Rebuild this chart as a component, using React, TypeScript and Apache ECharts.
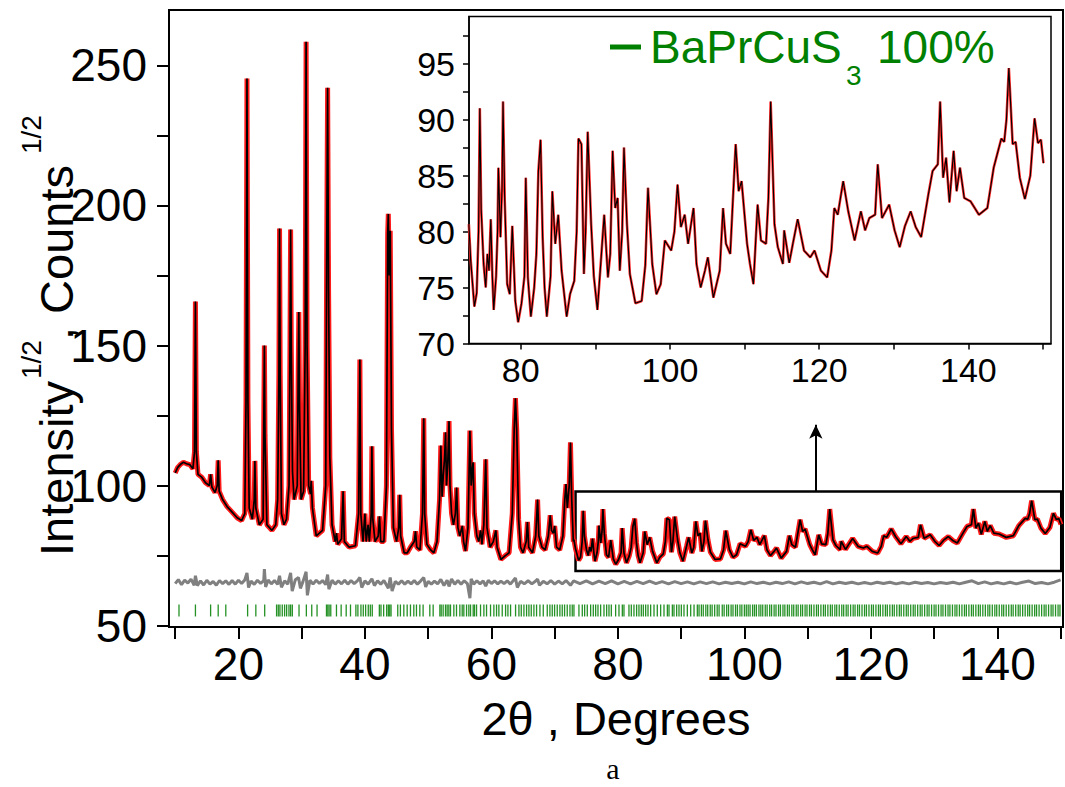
import React, { useEffect, useRef } from 'react';
import * as echarts from 'echarts';

// ---- data ----
// low-angle part of the profile (2theta, sqrt intensity)
const lowProfile: [number, number][] = [
  [10.0, 104.5], [10.4, 106.5], [10.8, 107.5], [11.3, 108.3], [11.8, 107.8], [12.3, 107.5], [12.8, 106],
  [13.05, 112], [13.2, 165.7], [13.35, 112], [13.6, 104], [14.2, 103], [14.8, 101], [15.4, 100], [15.6, 104],
  [15.8, 99.5], [16.3, 97.5], [16.65, 100], [16.8, 109], [16.95, 98], [17.5, 95], [18.2, 92.5], [19.0, 90.5],
  [19.8, 88.5], [20.5, 87.5], [21.0, 90], [21.2, 130], [21.35, 245.3], [21.5, 130], [21.7, 92], [22.2, 88],
  [22.5, 95], [22.6, 108.8], [22.75, 92], [23.3, 86], [23.9, 88], [24.0, 120], [24.1, 150], [24.2, 118],
  [24.5, 86], [25.3, 84], [25.9, 86], [26.2, 95], [26.4, 140], [26.5, 191.8], [26.6, 140], [26.8, 90],
  [27.2, 86], [27.6, 88], [28.0, 100], [28.15, 150], [28.25, 191.4], [28.35, 150], [28.55, 105], [28.8, 95],
  [29.3, 100], [29.45, 140], [29.55, 162], [29.65, 130], [29.9, 95], [30.3, 98], [30.55, 150], [30.7, 258.5],
  [30.85, 150], [31.1, 100], [31.4, 97], [31.5, 101.7], [31.7, 92], [32.3, 82], [32.8, 83], [33.3, 84],
  [33.8, 100], [33.95, 180], [34.1, 242], [34.25, 170], [34.45, 110], [34.8, 86], [35.3, 80], [35.5, 83],
  [35.7, 79], [36.3, 81], [36.55, 98], [36.75, 80], [37.5, 78], [38.5, 78.5], [39.0, 90], [39.2, 145],
  [39.35, 90], [39.7, 80], [40.0, 90], [40.2, 80], [40.5, 86], [40.7, 80], [41.0, 90], [41.1, 114],
  [41.25, 88], [41.6, 80], [42.1, 82], [42.3, 89], [42.5, 80], [43.0, 80], [43.4, 100], [43.6, 190],
  [43.7, 197], [43.85, 175], [44.0, 191], [44.2, 120], [44.5, 85], [45.0, 80], [45.35, 85], [45.5, 96.7],
  [45.65, 82], [46.2, 76], [46.7, 76], [47.2, 78], [47.8, 80], [48.0, 83.7], [48.2, 78], [48.7, 77],
  [49.1, 90], [49.3, 124], [49.45, 90], [49.8, 79], [50.4, 77], [50.9, 76], [51.4, 80], [51.8, 95],
  [52.0, 114.3], [52.2, 96], [52.4, 104], [52.6, 110], [52.75, 119], [52.9, 100], [53.1, 108], [53.3, 123],
  [53.45, 100], [53.7, 90], [54.0, 86], [54.3, 90], [54.5, 99.3], [54.7, 85], [55.0, 82], [55.4, 85.6],
  [55.6, 80], [55.9, 76.6], [56.3, 85], [56.6, 119.6], [56.8, 100], [57.0, 106], [57.1, 108.3], [57.3, 90],
  [57.7, 82], [58.0, 80], [58.3, 84], [58.5, 79], [58.8, 86], [59.1, 109.4], [59.3, 85], [59.8, 78],
  [60.3, 80], [60.7, 84], [60.9, 78], [61.5, 73.6], [62.2, 75], [62.8, 76], [63.3, 90], [63.6, 120],
  [63.8, 131.2], [64.0, 120], [64.3, 88], [64.6, 78], [65.0, 76], [65.5, 80], [65.7, 87], [65.9, 78],
  [66.5, 76], [67.0, 82], [67.3, 95], [67.5, 82], [68.0, 78], [68.5, 77], [69.0, 82], [69.3, 89.4],
  [69.5, 84], [69.8, 83], [70.0, 85.6], [70.3, 78], [70.8, 77], [71.3, 82], [71.6, 95], [71.8, 100.5],
  [72.0, 92], [72.3, 100], [72.5, 115.4], [72.7, 95], [72.95, 80],
];

// high-angle part (also shown in the inset)
const highProfile: [number, number][] = [
  [73.05, 80.65], [73.3, 77.4], [73.79, 73.3], [74.1, 74.5], [74.35, 80], [74.52, 91.0], [74.7, 82],
  [75.03, 77.1], [75.31, 75.0], [75.54, 78.0], [75.75, 76.5], [75.99, 81.1], [76.2, 76], [76.38, 73.0],
  [76.7, 76], [76.9, 80], [77.01, 85.7], [77.29, 79.5], [77.5, 84], [77.63, 91.6], [77.85, 83.0],
  [78.19, 75.3], [78.53, 74.4], [78.87, 80.5], [79.27, 73.8], [79.66, 71.9], [80.11, 73.6], [80.5, 76],
  [80.68, 84.8], [80.96, 75.9], [81.36, 72.4], [81.81, 75.0], [82.1, 78], [82.37, 85.4], [82.66, 88.2],
  [82.94, 79.5], [83.2, 75], [83.5, 72.4], [84.0, 76], [84.24, 83.6], [84.63, 78.9], [85.03, 81.5],
  [85.48, 76.5], [86.16, 72.4], [86.61, 74.4], [87.18, 75.6], [87.5, 80], [87.74, 88.3], [88.14, 87.8],
  [88.47, 76.2], [88.7, 80], [88.98, 88.9], [89.44, 80.65], [89.8, 76], [90.28, 73.0], [90.85, 78.3],
  [91.19, 81.5], [91.69, 75.9], [92.0, 78], [92.32, 87.2], [92.66, 82.1], [92.99, 83.0], [93.28, 76.5],
  [93.6, 80], [93.84, 87.5], [94.24, 80.65], [94.63, 76.2], [95.37, 73.6], [96.21, 73.8], [96.7, 77],
  [97.06, 83.9], [97.63, 77.1], [98.19, 74.4], [98.76, 75.3], [99.32, 79.2], [100.17, 78.3], [100.6, 80],
  [101.02, 84.2], [101.47, 80.4], [101.98, 81.5], [102.43, 78.9], [103.16, 82.1], [103.56, 77.1],
  [104.12, 75.0], [104.69, 76.5], [105.08, 77.7], [105.82, 74.1], [106.67, 76.5], [107.12, 82.1],
  [107.51, 78.9], [108.08, 78.0], [108.81, 87.8], [109.21, 83.6], [109.6, 84.5], [110.34, 78.9],
  [110.73, 77.1], [111.19, 75.3], [111.75, 82.4], [112.2, 79.2], [112.88, 78.9], [113.2, 83], [113.5, 91.6],
  [114.01, 80.65], [114.46, 78.6], [115.14, 77.1], [115.31, 80.1], [115.99, 77.2], [116.5, 79], [117.12, 81.1],
  [117.97, 78.3], [118.81, 77.7], [119.38, 78.3], [120.23, 76.5], [121.07, 75.9], [121.64, 78.3],
  [122.03, 82.1], [122.49, 81.5], [123.22, 84.5], [123.9, 81.8], [124.75, 79.2], [125.59, 81.8],
  [126.16, 80.1], [126.72, 81.2], [127.5, 81.5], [127.85, 86.0], [128.42, 81.2], [129.38, 82.4],
  [130.11, 80.1], [130.79, 78.6], [131.5, 80.5], [132.26, 81.8], [132.94, 80.4], [133.67, 79.5],
  [134.63, 83.3], [135.2, 85.4], [135.9, 86], [136.21, 91.6], [136.61, 84.8], [137.01, 86.6], [137.46, 82.6],
  [138.02, 87.2], [138.42, 83.6], [138.87, 85.7], [139.44, 83.0], [140.28, 82.7], [141.41, 81.5],
  [142.54, 82.1], [143.39, 85.7], [144.41, 88.3], [144.8, 88.0], [145.1, 90], [145.42, 94.6], [145.93, 87.8],
  [146.33, 88.0], [146.89, 84.8], [147.57, 82.9], [148.3, 85], [148.87, 90.1], [149.32, 87.9], [149.72, 88.2],
  [150.06, 86.1],
];

// difference curve (observed - calculated, offset)
const diffProfile: [number, number][] = [
  [10, 65.0], [10.5, 66.4], [11, 64.6], [11.5, 66.2], [12, 65.2], [12.5, 66.6], [13, 64.4], [13.2, 67.8],
  [13.5, 64.3], [14, 66.0], [14.5, 64.5], [15, 66.2], [15.5, 64.8], [16, 65.8], [16.5, 64.4], [17, 66.1],
  [17.5, 65.0], [18, 66.0], [18.5, 64.7], [19, 66.1], [19.5, 64.8], [20, 66.2], [20.5, 65.0], [21, 66.3],
  [21.35, 68.8], [21.6, 63.6], [22, 65.9], [22.5, 64.7], [23, 66.2], [23.5, 65.1], [24, 66.1], [24.1, 70.2],
  [24.3, 63.8], [24.7, 66.3], [25.2, 64.9], [25.7, 66.1], [26.2, 64.7], [26.5, 67.8], [26.8, 63.7],
  [27.3, 66.0], [27.8, 64.8], [28.25, 68.8], [28.5, 62.3], [29, 66.4], [29.5, 67.2], [29.8, 63.3],
  [30.2, 65.7], [30.7, 69.2], [30.9, 60.8], [31.3, 66.2], [31.8, 64.8], [32.3, 66.2], [32.8, 65.1],
  [33.3, 66.1], [33.8, 64.6], [34.1, 68.2], [34.3, 63.0], [34.8, 66.2], [35.3, 64.8], [35.8, 66.0],
  [36.3, 64.9], [36.8, 66.2], [37.3, 64.8], [37.8, 66.1], [38.3, 65.0], [38.8, 66.0], [39.2, 67.2],
  [39.5, 63.6], [40, 66.0], [40.5, 64.8], [41.1, 66.7], [41.5, 64.3], [42, 66.0], [42.5, 64.8], [43, 66.1],
  [43.7, 63.3], [44, 67.2], [44.3, 62.3], [44.8, 65.8], [45.3, 64.8], [45.8, 66.0], [46.3, 64.8],
  [46.8, 65.9], [47.3, 64.9], [47.8, 66.1], [48.3, 64.8], [48.8, 65.9], [49.3, 67.2], [49.6, 63.8],
  [50, 65.8], [50.5, 64.8], [51, 65.9], [51.5, 64.9], [52, 66.5], [52.5, 64.3], [53, 66.2], [53.3, 64.0],
  [53.7, 66.6], [54.2, 64.8], [54.7, 66.1], [55.2, 64.8], [55.7, 66.0], [56.2, 65.0], [56.6, 59.8],
  [56.8, 66.7], [57.2, 64.8], [57.7, 66.0], [58.2, 64.9], [58.7, 66.0], [59.1, 64.1], [59.5, 66.2],
  [60, 65.0], [60.5, 66.0], [61, 64.9], [61.5, 65.9], [62, 65.0], [62.5, 66.0], [63, 64.8], [63.8, 67.0],
  [64.1, 63.6], [64.6, 65.8], [65.2, 64.9], [65.8, 66.0], [66.4, 64.9], [67, 65.9], [67.3, 66.6],
  [67.6, 64.4], [68.2, 65.8], [68.8, 64.9], [69.4, 66.1], [70, 64.8], [70.6, 65.9], [71.2, 64.9],
  [71.8, 66.1], [72.5, 64.4], [73, 66.0], [74, 65.0], [75, 66.0], [76, 64.9], [77, 65.9], [78, 65.0],
  [79, 66.0], [80, 64.9], [81, 65.8], [82, 64.9], [83, 65.8], [84, 65.0], [85, 65.9], [86, 65.0], [87, 65.7],
  [88, 64.9], [89, 65.7], [90, 65.0], [91, 65.6], [92, 64.9], [93, 65.6], [94, 65.0], [95, 65.6], [96, 64.9],
  [97, 65.5], [98, 65.0], [99, 65.5], [100, 64.9], [101, 65.6], [102, 65.0], [103, 65.5], [104, 64.9],
  [105, 65.5], [106, 65.0], [107, 65.6], [108, 64.9], [109, 65.6], [110, 65.0], [111, 65.5], [112, 64.9],
  [113, 65.7], [114, 64.9], [115, 65.5], [116, 65.0], [117, 65.5], [118, 64.9], [119, 65.4], [120, 64.9],
  [121, 65.5], [122, 65.0], [123, 65.5], [124, 64.9], [125, 65.4], [126, 64.9], [127, 65.5], [128, 65.0],
  [129, 65.4], [130, 64.9], [131, 65.4], [132, 65.0], [133, 65.5], [134, 64.9], [135, 65.5], [136, 66.0],
  [137, 65.0], [138, 65.6], [139, 64.9], [140, 65.4], [141, 64.9], [142, 65.5], [143, 64.9], [144, 65.5],
  [145, 65.9], [146, 65.0], [147, 65.4], [148, 64.9], [149, 65.5], [150, 66.3],
];

// Bragg reflection positions (green tick marks)
const reflections: number[] = [
  10.6, 13.2, 15.6, 16.8, 18.0, 21.45, 22.75, 24.15, 26.03, 26.3, 26.56, 26.93, 27.3, 27.62, 27.99, 28.25,
  28.52, 29.58, 30.74, 31.59, 32.43, 33.92, 34.13, 34.34, 34.6, 35.5, 36.24, 37.04, 37.72, 38.57, 38.89,
  39.37, 39.74, 40.11, 40.53, 40.85, 41.16, 42.28, 42.54, 42.96, 43.44, 43.7, 43.92, 44.13, 45.19, 45.61,
  46.15, 46.68, 47.2, 47.73, 48.15, 48.68, 49.2, 50.26, 50.79, 51.85, 52.06, 52.37, 52.74, 53.0, 53.27,
  53.53, 54.06, 54.48, 55.01, 55.38, 55.64, 56.07, 56.43, 56.7, 57.12, 57.33, 57.65, 58.28, 58.81, 59.23,
  59.86, 60.39, 60.81, 61.18, 61.71, 62.24, 62.61, 63.03, 63.82, 64.35, 64.72, 65.14, 65.56, 65.93, 66.3,
  66.72, 67.14, 67.67, 68.2, 68.83, 69.25, 69.62, 69.99, 70.41, 70.83, 71.2, 71.57, 71.99, 72.42, 72.78,
  73.05, 73.84, 74.37, 74.74, 75.16, 75.69, 76.11, 76.48, 76.85, 77.27, 77.8, 78.22, 78.59, 78.96, 79.64,
  80.17, 80.7, 80.96, 81.75, 82.12, 82.54, 82.96, 83.33, 83.7, 84.02, 84.39, 84.76, 85.18, 85.71, 86.23,
  86.76, 87.29, 87.82, 88.08, 88.61, 88.87, 89.29, 89.66, 90.03, 90.45, 90.98, 91.51, 92.04, 92.56, 92.83,
  93.2, 93.5, 93.9, 94.2, 94.6, 94.9, 95.3, 95.7, 96.0, 96.5, 96.8, 97.2, 97.5, 97.9, 98.2, 98.6, 98.9,
  99.3, 99.6, 100.0, 100.3, 100.6, 100.9, 101.3, 101.6, 101.9, 102.3, 102.6, 102.9, 103.3, 103.6, 104.0,
  104.3, 104.7, 105.0, 105.4, 105.7, 106.1, 106.4, 106.8, 107.1, 107.5, 107.8, 108.2, 108.5, 108.9, 109.2,
  109.6, 109.9, 110.3, 110.6, 111.0, 111.4, 111.7, 112.1, 112.5, 112.8, 113.2, 113.6, 113.9, 114.3, 114.6,
  115.0, 115.4, 115.7, 116.1, 116.4, 116.8, 117.2, 117.5, 117.9, 118.2, 118.6, 119.0, 119.3, 119.7, 120.1,
  120.4, 120.8, 121.2, 121.5, 121.9, 122.3, 122.6, 123.0, 123.4, 123.7, 124.1, 124.5, 124.8, 125.2, 125.6,
  125.9, 126.3, 126.7, 127.0, 127.4, 127.8, 128.1, 128.5, 128.9, 129.2, 129.6, 130.0, 130.3, 130.7, 131.1,
  131.4, 131.8, 132.2, 132.5, 132.9, 133.3, 133.6, 134.0, 134.4, 134.8, 135.1, 135.5, 135.9, 136.2, 136.6,
  137.0, 137.3, 137.7, 138.1, 138.5, 138.8, 139.2, 139.6, 139.9, 140.3, 140.7, 141.0, 141.4, 141.8, 142.2,
  142.5, 142.9, 143.3, 143.6, 144.0, 144.4, 144.8, 145.1, 145.5, 145.9, 146.2, 146.6, 147.0, 147.4, 147.7,
  148.1, 148.5, 148.8, 149.2, 149.6, 149.9,
];
const reflectionLevel = 55.4;

// axes
const mainXTicks = [10, 20, 30, 40, 50, 60, 70, 80, 90, 100, 110, 120, 130, 140, 150];
const mainXLabels = [20, 40, 60, 80, 100, 120, 140];
const mainYTicks = [50, 75, 100, 125, 150, 175, 200, 225, 250];
const mainYLabels = [50, 100, 150, 200, 250];
const insetXTicks = [80, 90, 100, 110, 120, 130, 140, 150];
const insetXLabels = [80, 100, 120, 140];
const insetYTicks = [70, 72.5, 75, 77.5, 80, 82.5, 85, 87.5, 90, 92.5, 95, 97.5];
const insetYLabels = [70, 75, 80, 85, 90, 95];

// zoom box + arrow (data coordinates)
const zoomBoxX = [73.3, 150.1];
const zoomBoxY = [69.5, 97.9];
const arrowX = 111.3;
const arrowY = [97.9, 121.7];

const FONT = '"Liberation Sans", Arial, Helvetica, sans-serif';

export default function App() {
  const ref = useRef<HTMLDivElement>(null);

  useEffect(() => {
    document.body.style.margin = '0';
    if (!ref.current) return;
    const chart = echarts.init(ref.current, undefined, { renderer: 'svg' });
    const fullProfile = [...lowProfile, ...highProfile];

    const axisCommon = (fontSize: number, margin: number, tickLen: number, lw: number) => ({
      type: 'value' as const,
      axisLine: { show: true, onZero: false, lineStyle: { color: '#000', width: lw } },
      splitLine: { show: false },
      axisLabel: { color: '#000', fontSize, fontFamily: FONT, margin },
      axisTick: { show: true, inside: false, length: tickLen, lineStyle: { color: '#000', width: lw } },
    });

    const mx = axisCommon(46, 14, 12, 2);
    const my = axisCommon(46, 22, 12, 2);
    const ix = axisCommon(34, 9, 6, 1.5);
    const iy = axisCommon(34, 14, 6, 1.5);

    const option: any = {
      animation: false,
      backgroundColor: '#fff',
      grid: [
        { left: 169, top: 10, width: 894, height: 617, show: true, borderColor: '#000', borderWidth: 2, backgroundColor: 'rgba(0,0,0,0)' },
        { left: 469, top: 16.5, width: 582, height: 327, show: true, borderColor: '#000', borderWidth: 1.5, backgroundColor: '#fff' },
      ],
      xAxis: [
        { ...mx, gridIndex: 0, min: 9.02, max: 150.38,
          axisTick: { ...mx.axisTick, customValues: mainXTicks },
          axisLabel: { ...mx.axisLabel, customValues: mainXLabels } },
        { ...ix, gridIndex: 1, min: 73.07, max: 151.07,
          axisTick: { ...ix.axisTick, customValues: insetXTicks },
          axisLabel: { ...ix.axisLabel, customValues: insetXLabels } },
      ],
      yAxis: [
        { ...my, gridIndex: 0, min: 49.5, max: 269.8,
          axisTick: { ...my.axisTick, customValues: mainYTicks },
          axisLabel: { ...my.axisLabel, customValues: mainYLabels } },
        { ...iy, gridIndex: 1, min: 70, max: 99.2,
          axisTick: { ...iy.axisTick, customValues: insetYTicks },
          axisLabel: { ...iy.axisLabel, customValues: insetYLabels } },
      ],
      series: [
        {
          name: 'obs', type: 'line', xAxisIndex: 0, yAxisIndex: 0, data: fullProfile, symbol: 'none',
          lineStyle: { color: '#ff1a1a', width: 5 }, z: 2,
        },
        {
          name: 'calc', type: 'line', xAxisIndex: 0, yAxisIndex: 0, data: fullProfile, symbol: 'none',
          lineStyle: { color: '#000', width: 1.7 }, z: 3,
          markArea: {
            silent: true,
            label: { show: false },
            itemStyle: { color: 'rgba(0,0,0,0)', borderColor: '#000', borderWidth: 2.5 },
            data: [[{ coord: [zoomBoxX[0], zoomBoxY[1]] }, { coord: [zoomBoxX[1], zoomBoxY[0]] }]],
          },
          markLine: {
            silent: true,
            symbol: ['none', 'arrow'],
            symbolSize: [10, 14],
            label: { show: false },
            lineStyle: { color: '#000', width: 2, type: 'solid' },
            data: [[{ coord: [arrowX, arrowY[0]] }, { coord: [arrowX, arrowY[1]] }]],
          },
        },
        {
          name: 'diff', type: 'line', xAxisIndex: 0, yAxisIndex: 0, data: diffProfile, symbol: 'none',
          lineStyle: { color: '#808080', width: 3 }, z: 2,
        },
        {
          name: 'hkl', type: 'scatter', xAxisIndex: 0, yAxisIndex: 0,
          data: reflections.map((x) => [x, reflectionLevel]),
          symbol: 'rect', symbolSize: [1.3, 12], itemStyle: { color: '#0c850c', opacity: 0.9 }, z: 2,
        },
        {
          name: 'obsInset', type: 'line', xAxisIndex: 1, yAxisIndex: 1, data: highProfile, symbol: 'none',
          lineStyle: { color: '#ff2a2a', width: 2.6 }, z: 5,
        },
        {
          name: 'calcInset', type: 'line', xAxisIndex: 1, yAxisIndex: 1, data: highProfile, symbol: 'none',
          lineStyle: { color: '#000', width: 1.1 }, z: 6,
        },
      ],
      graphic: [
        { type: 'line', shape: { x1: 610, y1: 47, x2: 641, y2: 47 }, style: { stroke: '#008000', lineWidth: 5 }, z: 100 },
        { type: 'text', x: 650, y: 47, z: 100, style: { text: 'BaPrCuS', fill: '#008000', fontSize: 46, fontFamily: FONT, align: 'left', verticalAlign: 'middle' } },
        { type: 'text', x: 846, y: 75, z: 100, style: { text: '3', fill: '#008000', fontSize: 28, fontFamily: FONT, align: 'left', verticalAlign: 'middle' } },
        { type: 'text', x: 877, y: 47, z: 100, style: { text: '100%', fill: '#008000', fontSize: 46, fontFamily: FONT, align: 'left', verticalAlign: 'middle' } },
        {
          type: 'group', x: 56, y: 556, rotation: Math.PI / 2, z: 100,
          children: [
            { type: 'text', x: 0, y: 0, style: { text: 'Intensity', fill: '#000', fontSize: 47, fontFamily: FONT, align: 'left', verticalAlign: 'middle' } },
            { type: 'text', x: 177, y: -25, style: { text: '1/2', fill: '#000', fontSize: 28, fontFamily: FONT, align: 'left', verticalAlign: 'middle' } },
            { type: 'text', x: 216, y: 0, style: { text: ', Counts', fill: '#000', fontSize: 47, fontFamily: FONT, align: 'left', verticalAlign: 'middle' } },
            { type: 'text', x: 402, y: -25, style: { text: '1/2', fill: '#000', fontSize: 28, fontFamily: FONT, align: 'left', verticalAlign: 'middle' } },
          ],
        },
        { type: 'text', x: 616, y: 718, z: 100, style: { text: '2θ , Degrees', fill: '#000', fontSize: 47, fontFamily: FONT, align: 'center', verticalAlign: 'middle' } },
        { type: 'text', x: 613, y: 768, z: 100, style: { text: 'a', fill: '#000', fontSize: 30, fontFamily: '"Liberation Serif", "Times New Roman", serif', align: 'center', verticalAlign: 'middle' } },
      ],
    };

    chart.setOption(option);
    return () => chart.dispose();
  }, []);

  return <div ref={ref} style={{ width: 1065, height: 787 }} />;
}
